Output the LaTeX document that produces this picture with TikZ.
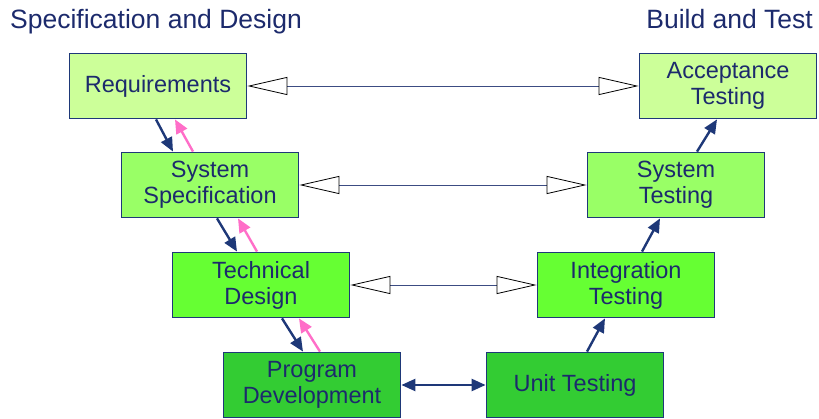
\documentclass[tikz,border=0pt]{standalone}
\usepackage{fontspec}
\setmainfont{Liberation Sans}
\usetikzlibrary{arrows.meta}

\definecolor{navy}{RGB}{28,42,108}
\definecolor{edgeblue}{RGB}{30,56,120}
\definecolor{linkgray}{RGB}{60,76,130}
\definecolor{backpink}{RGB}{255,110,200}
\definecolor{greenA}{RGB}{204,255,153}
\definecolor{greenB}{RGB}{153,255,102}
\definecolor{greenC}{RGB}{102,255,51}
\definecolor{greenD}{RGB}{51,204,51}

\begin{document}
\begin{tikzpicture}[x=1pt, y=-1pt,
		phase/.style={
			rectangle, draw=edgeblue, line width=1.8pt, text=navy,
			minimum width=177pt, minimum height=65pt,
			align=center, font=\fontsize{23.5}{26}\selectfont
		},
		title/.style={text=navy, font=\fontsize{26.5}{30}\selectfont, inner sep=0pt},
		link/.style={draw=linkgray, line width=0.8pt,
			{Triangle[open, length=40pt, width=18pt, color=black]}-{Triangle[open, length=40pt, width=18pt, color=black]}},
		down/.style={draw=edgeblue, line width=2.4pt, -{Triangle[length=14pt, width=12pt]}},
		back/.style={draw=backpink, line width=2.4pt, -{Triangle[length=14pt, width=12pt]}}
	]
		\useasboundingbox (0,0) rectangle (819,419);

		\node[title, anchor=base west] (spec) at (10,29) {Specification and Design};
		\node[title, anchor=base east] (build) at (813,29) {Build and Test};

		% left leg
		\node[phase, fill=greenA] (req) at (158,86) {Requirements};
		\node[phase, fill=greenB] (sysspec) at (210,185) {System\\Specification};
		\node[phase, fill=greenC] (tech) at (261,285) {Technical\\Design};
		\node[phase, fill=greenD] (prog) at (312,385) {Program\\Development};

		% right leg
		\node[phase, fill=greenA] (accept) at (728,86) {Acceptance\\Testing};
		\node[phase, fill=greenB] (systest) at (676,185) {System\\Testing};
		\node[phase, fill=greenC] (integ) at (626,285) {Integration\\Testing};
		\node[phase, fill=greenD] (unit) at (575,385) {Unit Testing};

		\draw[link] (req) -- (accept);
		\draw[link] (sysspec) -- (systest);
		\draw[link] (tech) -- (integ);
		\draw[down, {Triangle[length=14pt, width=12pt]}-{Triangle[length=14pt, width=12pt]}] (prog) -- (unit);

		\draw[down] ([xshift=-2pt]req.south) -- ([xshift=-37pt]sysspec.north);
		\draw[back] ([xshift=-17pt]sysspec.north) -- ([xshift=17pt]req.south);
		\draw[down] ([xshift=7pt]sysspec.south) -- ([xshift=-24pt]tech.north);
		\draw[back] ([xshift=-4pt]tech.north) -- ([xshift=28pt]sysspec.south);
		\draw[down] ([xshift=21pt]tech.south) -- ([xshift=-9pt]prog.north);
		\draw[back] ([xshift=8pt]prog.north) -- ([xshift=38pt]tech.south);

		\draw[down] ([xshift=12pt]unit.north) -- ([xshift=-21pt]integ.south);
		\draw[down] ([xshift=16pt]integ.north) -- ([xshift=-16pt]systest.south);
		\draw[down] ([xshift=21pt]systest.north) -- ([xshift=-11pt]accept.south);
	\end{tikzpicture}
\end{document}
